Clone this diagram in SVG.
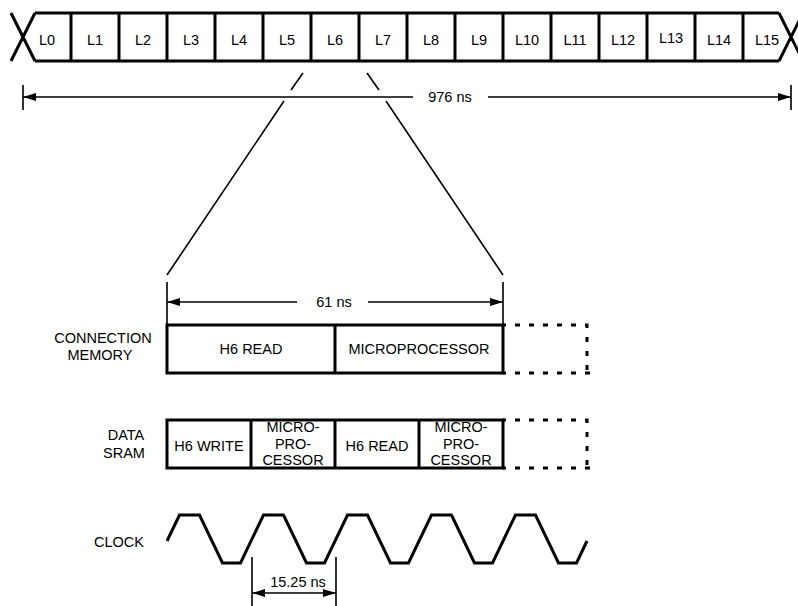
<svg xmlns="http://www.w3.org/2000/svg" width="798" height="606" viewBox="0 0 798 606">
<style>
text{font-family:"Liberation Sans",Arial,sans-serif;font-size:14.5px;fill:#000;text-anchor:middle}
.thick{fill:none;stroke:#000;stroke-width:3}
.thin{fill:none;stroke:#000;stroke-width:1.6}
.dash{fill:none;stroke:#000;stroke-width:3;stroke-dasharray:5 9;stroke-dashoffset:2}
</style>
<defs>
<marker id="arr" viewBox="0 0 13 8" refX="13" refY="4" markerWidth="13" markerHeight="8" markerUnits="userSpaceOnUse" orient="auto">
<path d="M0,0 L13,4 L0,8 z" fill="#000"/>
</marker>
</defs>
<rect width="798" height="606" fill="#fff"/>
<g id="bus">
<path class="thick" d="M11,13 L35,61 M11,61 L35,13 M35,13 H779 M35,61 H779 M779,13 L803,61 M779,61 L803,13"/>
<path class="thick" d="M71,13V61 M119,13V61 M167,13V61 M215,13V61 M263,13V61 M311,13V61 M359,13V61 M407,13V61 M455,13V61 M503,13V61 M551,13V61 M599,13V61 M647,13V61 M695,13V61 M743,13V61"/>
<text x="47" y="45">L0</text><text x="95" y="45">L1</text><text x="143" y="45">L2</text><text x="191" y="45">L3</text>
<text x="239" y="45">L4</text><text x="287" y="45">L5</text><text x="335" y="45">L6</text><text x="383" y="45">L7</text>
<text x="431" y="45">L8</text><text x="479" y="45">L9</text><text x="527" y="45">L10</text><text x="575" y="45">L11</text>
<text x="623" y="45">L12</text><text x="671" y="43">L13</text><text x="719" y="45">L14</text><text x="767" y="45">L15</text>
</g>
<g id="connectors">
<path class="thin" d="M23,85V110 M791,85V110"/>
<path class="thin" d="M413,97 H23" marker-end="url(#arr)"/>
<path class="thin" d="M488,97 H791" marker-end="url(#arr)"/>
<path class="thin" d="M303,73 L291,90 M284,101 L167,275 M367,73 L379,90 M386,101 L503,275"/>
<path class="thin" d="M167,282V325 M503,282V325"/>
<path class="thin" d="M297,302 H167" marker-end="url(#arr)"/>
<path class="thin" d="M368,302 H503" marker-end="url(#arr)"/>
<path class="thin" d="M252,557V606 M336,557V606"/>
<path class="thin" d="M294,593 H252" marker-end="url(#arr)"/>
<path class="thin" d="M294,593 H336" marker-end="url(#arr)"/>
</g>
<g id="dim-labels">
<text x="450" y="102">976 ns</text>
<text x="334" y="307">61 ns</text>
<text x="298" y="587">15.25 ns</text>
</g>
<g id="connection-memory">
<text x="103" y="343">CONNECTION</text>
<text x="100" y="360">MEMORY</text>
<rect class="thick" x="167" y="325" width="336" height="48"/>
<path class="thick" d="M335,325V373"/>
<path class="dash" d="M503,325 H587 V373"/>
<path class="dash" d="M503,373 H590"/>
<text x="251" y="354">H6 READ</text>
<text x="419" y="354">MICROPROCESSOR</text>
</g>
<g id="data-sram">
<text x="126" y="440">DATA</text>
<text x="124" y="458">SRAM</text>
<rect class="thick" x="167" y="420" width="336" height="48"/>
<path class="thick" d="M251,420V468 M335,420V468 M419,420V468"/>
<path class="dash" d="M503,420 H587 V468"/>
<path class="dash" d="M503,468 H590"/>
<text x="209" y="451">H6 WRITE</text>
<text x="293" y="432">MICRO-</text><text x="293" y="448.5">PRO-</text><text x="293" y="465">CESSOR</text>
<text x="377" y="451">H6 READ</text>
<text x="461" y="432">MICRO-</text><text x="461" y="448.5">PRO-</text><text x="461" y="465">CESSOR</text>
</g>
<g id="clock">
<text x="119" y="547">CLOCK</text>
<path class="thick" d="M167,541 L179.5,515 H199.5 L222.5,563 H240.5 L263.5,515 H283.5 L306.5,563 H324.5 L347.5,515 H367.5 L390.5,563 H408.5 L431.5,515 H451.5 L474.5,563 H492.5 L515.5,515 H535.5 L558.5,563 H576.5 L587,541"/>
</g>
</svg>
